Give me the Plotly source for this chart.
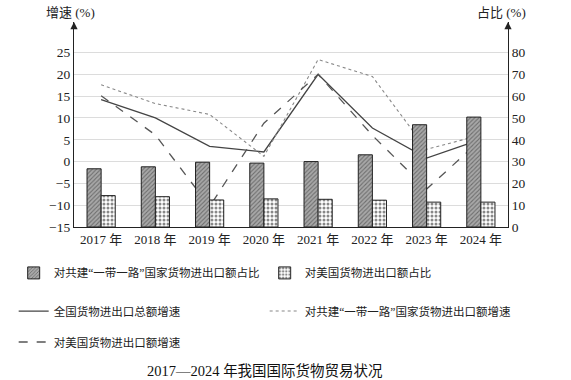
import plotly.graph_objects as go

years = ["2017 年", "2018 年", "2019 年", "2020 年", "2021 年", "2022 年", "2023 年", "2024 年"]
share_br = [26.7, 27.6, 29.7, 29.3, 30.0, 33.1, 46.9, 50.4]
share_us = [14.4, 13.9, 12.4, 12.9, 12.7, 12.3, 11.4, 11.4]
growth_total = [14.2, 10.0, 3.5, 2.2, 20.0, 7.7, 0.8, 5.1]
growth_br = [17.6, 13.3, 10.8, 1.2, 23.4, 19.5, 2.8, 6.1]
growth_us = [15.1, 6.1, -10.3, 8.8, 20.0, 6.0, -6.3, 5.0]

left_ticks = [-15, -10, -5, 0, 5, 10, 15, 20, 25]
right_ticks = [0, 10, 20, 30, 40, 50, 60, 70, 80]

SERIF = "Liberation Serif, Times New Roman, Noto Sans CJK SC, serif"
CJK = "Liberation Serif, Noto Sans CJK SC, serif"

fig = go.Figure()

fig.add_trace(go.Bar(
    x=years, y=share_br, yaxis="y2", name="对共建“一带一路”国家货物进出口额占比",
    marker=dict(color="#9a9a9a", line=dict(color="#222", width=1),
                pattern=dict(shape="/", fgcolor="#333", bgcolor="#a8a8a8", size=3, solidity=0.35)),
    legend="legend",
))
fig.add_trace(go.Bar(
    x=years, y=share_us, yaxis="y2", name="对美国货物进出口额占比",
    marker=dict(color="white", line=dict(color="#222", width=1),
                pattern=dict(shape=".", fgcolor="#111", bgcolor="white", size=4, solidity=0.45)),
    legend="legend",
))
fig.add_trace(go.Scatter(
    x=years, y=growth_total, mode="lines", name="全国货物进出口总额增速",
    line=dict(color="#444", width=1.3), legend="legend2",
))
fig.add_trace(go.Scatter(
    x=years, y=growth_br, mode="lines", name="对共建“一带一路”国家货物进出口额增速",
    line=dict(color="#888", width=1.1, dash="dot"), legend="legend2",
))
fig.add_trace(go.Scatter(
    x=years, y=growth_us, mode="lines", name="对美国货物进出口额增速",
    line=dict(color="#555", width=1.3, dash="dash"), legend="legend3",
))

legend_common = dict(orientation="h", xanchor="left", yanchor="middle",
                     font=dict(family=CJK, size=11.5, color="#222"),
                     bgcolor="rgba(0,0,0,0)", entrywidth=206, entrywidthmode="pixels",
                     itemwidth=30)

fig.update_layout(
    width=571, height=380,
    margin=dict(l=74, r=63, t=22, b=153, autoexpand=False),
    paper_bgcolor="white", plot_bgcolor="white",
    barmode="group", bargap=0.48, bargroupgap=0,
    showlegend=True,
    font=dict(family=SERIF, color="#222"),
    xaxis=dict(type="category", showline=True, linecolor="#222", linewidth=1.2,
               ticks="", tickfont=dict(family=CJK, size=13, color="#222"),
               showgrid=False),
    yaxis=dict(range=[-15, 32], tickvals=left_ticks, showline=True, linecolor="#222",
               linewidth=1.2, ticks="", showgrid=True, gridcolor="#dcdcdc", gridwidth=1,
               zeroline=False, tickfont=dict(family=SERIF, size=13.5, color="#222")),
    yaxis2=dict(range=[0, 94], tickvals=right_ticks, overlaying="y", side="right",
                showline=True, linecolor="#222", linewidth=1.2, ticks="", showgrid=False,
                zeroline=False, tickfont=dict(family=SERIF, size=13.5, color="#222")),
    legend=dict(x=-0.139, y=-0.224, **legend_common),
    legend2=dict(x=-0.139, y=-0.41, **legend_common),
    legend3=dict(x=-0.139, y=-0.561, **legend_common),
)

# axis titles
fig.add_annotation(text="增速 (%)", xref="paper", yref="paper", x=-0.009, y=1.0,
                   yshift=10, showarrow=False, xanchor="center", yanchor="middle",
                   font=dict(family=CJK, size=13, color="#222"))
fig.add_annotation(text="占比 (%)", xref="paper", yref="paper", x=0.986, y=1.0,
                   yshift=10, showarrow=False, xanchor="center", yanchor="middle",
                   font=dict(family=CJK, size=13, color="#222"))
# arrows on axes tops
for xp in (0, 1):
    fig.add_annotation(x=xp, y=1.0, xref="paper", yref="paper", text="", showarrow=True,
                       ax=0, ay=8, arrowhead=2, arrowsize=1.2, arrowwidth=1.2, arrowcolor="#222")

# chart title
fig.add_annotation(text="2017—2024 年我国国际货物贸易状况", xref="paper", yref="paper",
                   x=0.44, y=-0.702, showarrow=False, xanchor="center", yanchor="middle",
                   font=dict(family=CJK, size=14.5, color="#111"))

fig.write_html("out.html", config={"displayModeBar": False},
               post_script="document.body.style.margin='0';")
